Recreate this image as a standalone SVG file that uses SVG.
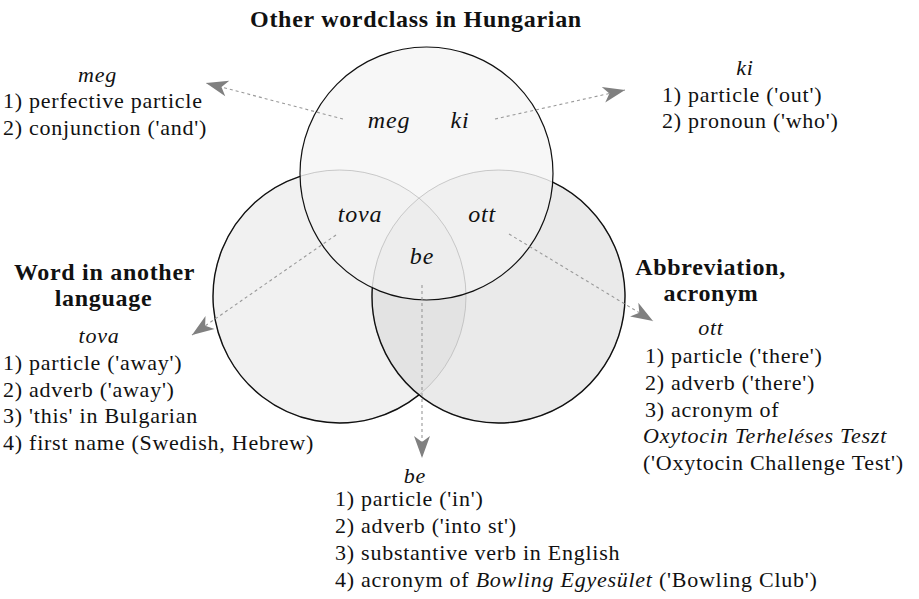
<svg xmlns="http://www.w3.org/2000/svg" width="919" height="599" viewBox="0 0 919 599">
<style>
  text { fill: #111; }
  .t { font-size: 22px; letter-spacing: 0.75px; }
  .i { font-style: italic; }
  .h { font-size: 22px; font-style: italic; text-anchor: middle; letter-spacing: 0.75px; }
  .lbl { font-size: 24px; font-style: italic; text-anchor: middle; letter-spacing: 0.8px; }
  .ttl { font-size: 24px; font-weight: bold; text-anchor: middle; letter-spacing: 0.7px; }
  .fine { fill: none; stroke: #b4b4b4; stroke-width: 0.7; }
  .edge { fill: none; stroke: #111; stroke-width: 1.4; }
  .con { fill: none; stroke: #999; stroke-width: 1.1; stroke-dasharray: 3 3; marker-end: url(#arr); }
</style>
<defs>
  <marker id="arr" viewBox="-23 -9 24 18" refX="0" refY="0" markerWidth="24" markerHeight="18" markerUnits="userSpaceOnUse" orient="auto">
    <path d="M0,0 L-22,-8 L-16,0 L-22,8 Z" fill="#808080"/>
  </marker>
</defs>
<rect width="919" height="599" fill="#fff"/>

<g id="circles">
  <g id="circle-word-in-another-language">
    <circle cx="339.5" cy="296.5" r="126.5" fill="#f1f1f1"/>
  </g>
  <g id="circle-abbreviation">
    <circle cx="498.5" cy="296.5" r="126.5" fill="#d5d5d5" fill-opacity="0.5"/>
  </g>
  <g id="circle-other-wordclass">
    <circle cx="426.5" cy="173.5" r="126.5" fill="#f3f3f3" fill-opacity="0.64"/>
  </g>
  <circle cx="339.5" cy="296.5" r="126.5" class="fine"/>
  <circle cx="498.5" cy="296.5" r="126.5" class="fine"/>
  <path class="edge" d="M300.04,176.31 A126.5,126.5 0 1 0 419,394.9"/>
  <path class="edge" d="M372.3,287.8 A126.5,126.5 0 1 0 552.7,182.2"/>
  <circle cx="426.5" cy="173.5" r="126.5" fill="none" stroke="#111" stroke-width="1.2"/>
</g>

<g font-family="'Liberation Serif', 'DejaVu Serif', serif">
<g id="titles">
  <text class="ttl" x="416" y="27">Other wordclass in Hungarian</text>
  <text class="ttl" x="104.5" y="280">Word in another</text>
  <text class="ttl" x="103.5" y="306">language</text>
  <text class="ttl" x="710.5" y="275">Abbreviation,</text>
  <text class="ttl" x="711" y="301">acronym</text>
</g>

<g id="region-labels">
  <text class="lbl" x="389" y="128">meg</text>
  <text class="lbl" x="460" y="128">ki</text>
  <text class="lbl" x="360" y="222">tova</text>
  <text class="lbl" x="482" y="222">ott</text>
  <text class="lbl" x="422" y="264">be</text>
</g>

<g id="note-meg">
  <text class="h" x="97.5" y="82">meg</text>
  <text class="t" x="3" y="108">1) perfective particle</text>
  <text class="t" x="3" y="135">2) conjunction ('and')</text>
</g>

<g id="note-ki">
  <text class="h" x="745" y="75">ki</text>
  <text class="t" x="662" y="102">1) particle ('out')</text>
  <text class="t" x="662" y="128">2) pronoun ('who')</text>
</g>

<g id="note-tova">
  <text class="h" x="99" y="343">tova</text>
  <text class="t" x="3" y="370">1) particle ('away')</text>
  <text class="t" x="3" y="397">2) adverb ('away')</text>
  <text class="t" x="3" y="423">3) 'this' in Bulgarian</text>
  <text class="t" x="3" y="450">4) first name (Swedish, Hebrew)</text>
</g>

<g id="note-ott">
  <text class="h" x="711" y="335">ott</text>
  <text class="t" x="645" y="363">1) particle ('there')</text>
  <text class="t" x="645" y="390">2) adverb ('there')</text>
  <text class="t" x="645" y="417">3) acronym of</text>
  <text class="t i" x="643" y="443">Oxytocin Terheléses Teszt</text>
  <text class="t" x="643" y="470">('Oxytocin Challenge Test')</text>
</g>

<g id="note-be">
  <text class="h" x="415" y="483">be</text>
  <text class="t" x="335" y="506">1) particle ('in')</text>
  <text class="t" x="335" y="533">2) adverb ('into st')</text>
  <text class="t" x="335" y="560">3) substantive verb in English</text>
  <text class="t" x="335" y="587">4) acronym of <tspan class="i">Bowling Egyesület</tspan> ('Bowling Club')</text>
</g>
</g>

<g id="connectors">
  <line class="con" x1="343" y1="119" x2="206" y2="83"/>
  <line class="con" x1="495" y1="119" x2="625" y2="90"/>
  <line class="con" x1="336" y1="235" x2="192" y2="335"/>
  <line class="con" x1="509" y1="234" x2="653" y2="321"/>
  <line class="con" x1="422" y1="285" x2="422" y2="458"/>
</g>
</svg>
